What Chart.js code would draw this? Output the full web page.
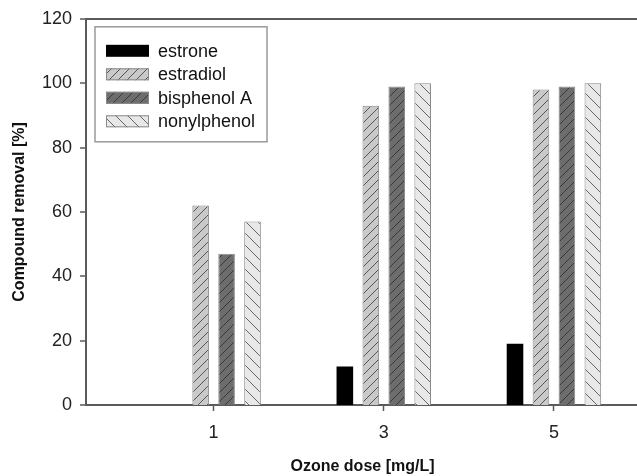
<!DOCTYPE html>
<html>
<head>
<meta charset="utf-8">
<script src="https://cdn.jsdelivr.net/npm/chart.js@4.4.1/dist/chart.umd.min.js"></script>
<style>
  html, body { margin: 0; padding: 0; background: #fff; overflow: hidden; }
  #wrap { position: relative; width: 640px; height: 476px; }
</style>
</head>
<body>
<div id="wrap"><canvas id="c"></canvas></div>
<script>
// ---- data ----
const doses = [1, 3, 5];
const seriesNames = ['estrone', 'estradiol', 'bisphenol A', 'nonylphenol'];
const estrone = [0, 12, 19];
const estradiol = [62, 93, 98];
const bisphenolA = [47, 99, 99];
const nonylphenol = [57, 100, 100];
const yTicks = [0, 20, 40, 60, 80, 100, 120];

// ---- hatch patterns ----
function hatch(bg, line, size, dir, lw) {
  const c = document.createElement('canvas');
  c.width = size; c.height = size;
  const g = c.getContext('2d');
  g.fillStyle = bg; g.fillRect(0, 0, size, size);
  g.strokeStyle = line; g.lineWidth = lw;
  g.beginPath();
  if (dir === '/') {
    for (let k = -1; k <= 1; k++) {
      g.moveTo(k * size, size); g.lineTo(k * size + size, 0);
    }
  } else {
    for (let k = -1; k <= 1; k++) {
      g.moveTo(k * size, 0); g.lineTo(k * size + size, size);
    }
  }
  g.stroke();
  return g.createPattern(c, 'repeat');
}
const ctx = document.getElementById('c').getContext('2d');
const fills = [
  '#000000',
  hatch('#c9c9c9', '#555555', 9, '/', 1),
  hatch('#6d6d6d', '#3a3a3a', 9, '/', 1),
  hatch('#e8e8e8', '#666666', 12, '\\', 1)
];
const values = [estrone, estradiol, bisphenolA, nonylphenol];

const datasets = seriesNames.map((name, i) => ({
  label: name,
  data: doses.map((d, j) => ({ x: d, y: values[i][j] })),
  backgroundColor: fills[i],
  borderColor: i === 0 ? '#000000' : '#8a8a8a',
  borderWidth: i === 0 ? 0 : 1,
  categoryPercentage: 0.61,
  barPercentage: 0.64
}));

const FONT = '"Liberation Sans", Arial, sans-serif';
const AXIS = '#5a5a5a';

const legendBox = {
  id: 'legendBox',
  afterDatasetsDraw(chart) {
    const g = chart.ctx;
    const a = chart.chartArea;
    const x0 = a.left + 9, y0 = a.top + 8, w = 172, h = 115;
    g.save();
    g.fillStyle = '#ffffff';
    g.fillRect(x0, y0, w, h);
    g.strokeStyle = '#9a9a9a';
    g.lineWidth = 1.5;
    g.strokeRect(x0, y0, w, h);
    g.font = '18px ' + FONT;
    g.textBaseline = 'middle';
    chart.data.datasets.forEach((ds, i) => {
      const cy = y0 + 24 + i * 23.5;
      g.fillStyle = ds.backgroundColor;
      g.fillRect(x0 + 11, cy - 6, 43, 12);
      if (i > 0) {
        g.strokeStyle = '#8a8a8a'; g.lineWidth = 1;
        g.strokeRect(x0 + 11.5, cy - 5.5, 42, 11);
      }
      g.fillStyle = '#111111';
      g.fillText(ds.label, x0 + 63, cy + 1);
    });
    g.restore();
  }
};

new Chart(ctx, {
  type: 'bar',
  data: { datasets },
  options: {
    responsive: true,
    maintainAspectRatio: false,
    animation: false,
    layout: { padding: { top: 15, right: 1, left: 0, bottom: 0 } },
    plugins: { legend: { display: false }, tooltip: { enabled: false } },
    scales: {
      x: {
        type: 'linear',
        offset: false,
        min: -0.5,
        max: 6,
        afterBuildTicks: s => { s.ticks = doses.map(v => ({ value: v })); },
        afterFit: s => { s.height = 71; },
        ticks: { font: { family: FONT, size: 18 }, color: '#222', padding: 11 },
        grid: { display: true, offset: false, drawOnChartArea: false, drawTicks: true, tickLength: 6, tickColor: AXIS, tickWidth: 1.5 },
        border: { display: true, color: AXIS, width: 2 },
        title: { display: true, text: 'Ozone dose [mg/L]', font: { family: FONT, size: 16, weight: 'bold' }, color: '#111', padding: { top: 9, bottom: 0 } }
      },
      y: {
        min: 0,
        max: 120,
        afterBuildTicks: s => { s.ticks = yTicks.map(v => ({ value: v })); },
        afterFit: s => { s.width = 86; },
        ticks: { font: { family: FONT, size: 18 }, color: '#222', padding: 8 },
        grid: {
          display: true, drawOnChartArea: true, drawTicks: true, tickLength: 6,
          color: c => (c.tick && c.tick.value === 120 ? AXIS : 'rgba(0,0,0,0)'),
          lineWidth: c => (c.tick && c.tick.value === 120 ? 2 : 0),
          tickColor: AXIS, tickWidth: 1.5
        },
        border: { display: true, color: AXIS, width: 2 },
        title: { display: true, text: 'Compound removal [%]', font: { family: FONT, size: 16, weight: 'bold' }, color: '#111', padding: { top: 10, bottom: 4 } }
      }
    }
  },
  plugins: [legendBox]
});
</script>
</body>
</html>
